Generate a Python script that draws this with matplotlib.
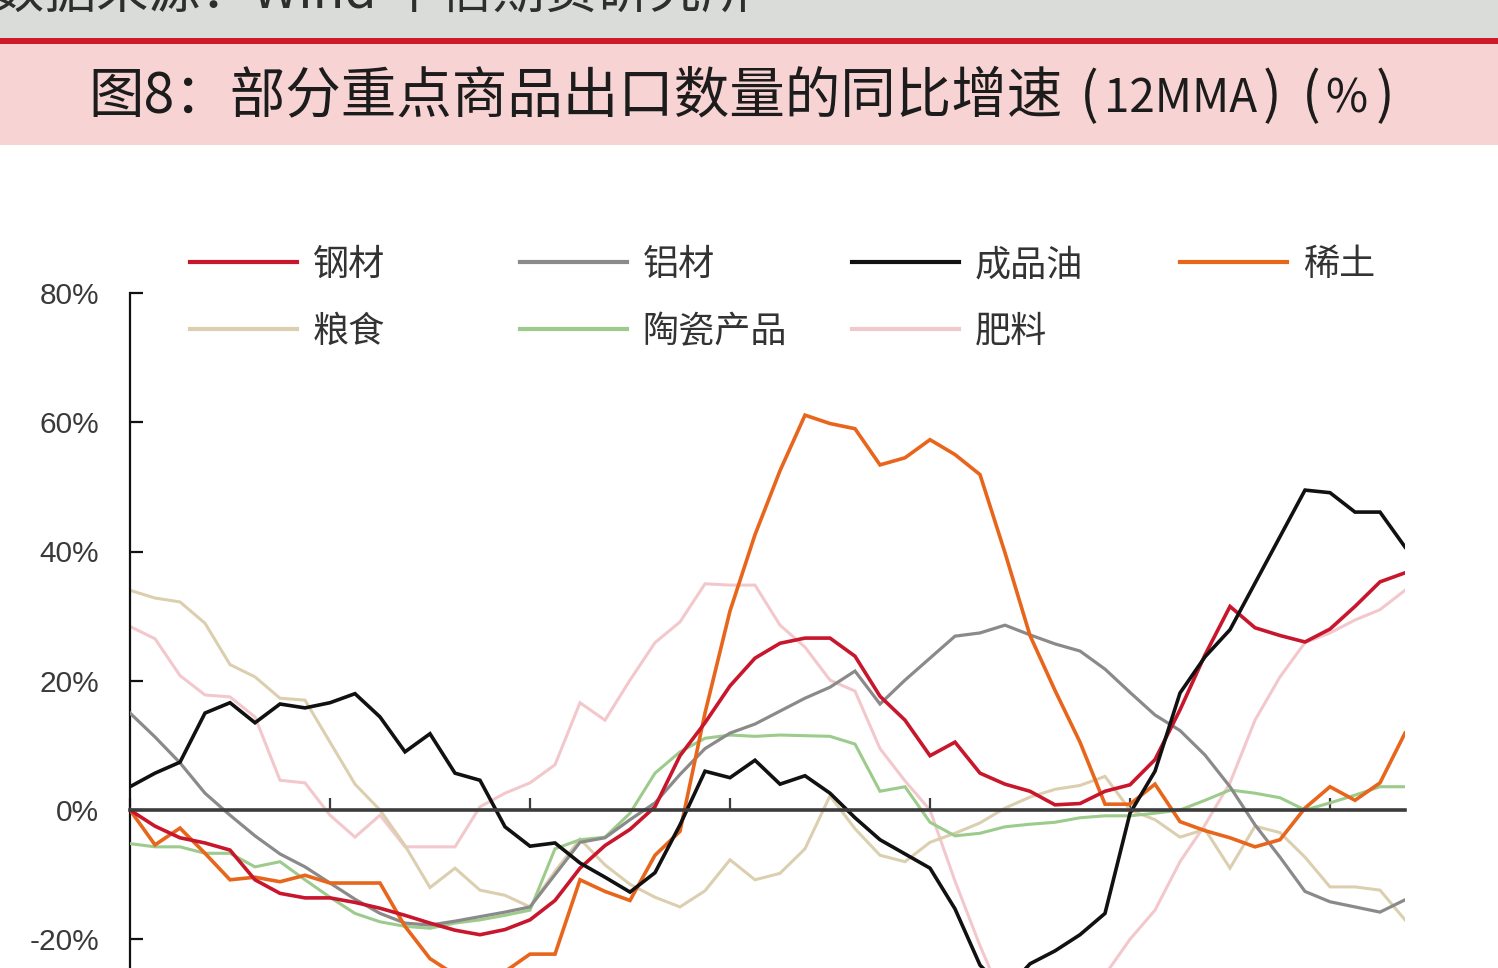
import matplotlib
matplotlib.use("Agg")
import matplotlib.pyplot as plt
from matplotlib.patches import Rectangle
import numpy as np

plt.rcParams['font.family'] = ['Noto Sans CJK SC', 'DejaVu Sans']

# ---------------- data (12MMA yoy, %) ----------------
month_index = np.arange(52)
xtick_positions = [0, 8, 16, 24, 32, 40, 48]
ytick_values = [-20, 0, 20, 40, 60, 80]
ytick_labels = ["-20%", "0%", "20%", "40%", "60%", "80%"]

steel = [0, -2.5, -4.3, -5.1, -6.2, -10.8, -12.9, -13.6, -13.6, -14.3, -15.2, -16.3, -17.5, -18.6, -19.3,
         -18.5, -17.0, -14.0, -9.0, -5.5, -3.0, 0.5, 8.4, 13.5, 19.2, 23.5, 25.8, 26.6, 26.6, 23.8, 17.6,
         13.9, 8.4, 10.5, 5.7, 4.0, 2.9, 0.8, 1.0, 2.9, 3.9, 7.8, 15.5, 24.0, 31.5, 28.2, 27.0, 26.0, 28.0,
         31.5, 35.3, 36.7]
aluminum = [15.0, 11.3, 7.3, 2.6, -0.8, -4.0, -6.8, -8.8, -11.3, -13.8, -16.0, -17.5, -17.8, -17.2, -16.5,
            -15.8, -15.0, -10.0, -5.0, -4.3, -1.5, 1.1, 5.5, 9.5, 11.9, 13.3, 15.3, 17.3, 19.0, 21.5, 16.4,
            20.1, 23.5, 26.9, 27.4, 28.6, 27.1, 25.7, 24.6, 21.8, 18.2, 14.7, 12.3, 8.5, 3.6, -2.3, -7.3,
            -12.6, -14.2, -15.0, -15.8, -13.9]
oil = [3.6, 5.7, 7.4, 15.0, 16.6, 13.5, 16.4, 15.8, 16.6, 18.0, 14.4, 9.0, 11.8, 5.7, 4.6, -2.6, -5.6,
       -5.1, -8.2, -10.4, -12.7, -9.7, -2.3, 6.0, 5.0, 7.7, 4.0, 5.3, 2.6, -1.2, -4.6, -6.8, -9.0, -15.3,
       -24.0, -28.0, -23.8, -21.8, -19.3, -16.0, -0.5, 6.0, 18.1, 23.7, 27.9, 35.1, 42.3, 49.5, 49.1,
       46.1, 46.1, 40.7]
rare_earth = [0, -5.4, -2.8, -6.7, -10.8, -10.4, -11.1, -10.1, -11.3, -11.3, -11.3, -18.0, -23.0, -25.5,
              -26.0, -25.0, -22.3, -22.3, -10.8, -12.6, -14.0, -7.0, -3.3, 15.0, 30.8, 42.6, 52.5, 61.1,
              59.8, 59.0, 53.4, 54.5, 57.3, 55.0, 51.9, 39.8, 27.0, 18.5, 10.5, 0.9, 0.9, 4.0, -1.8, -3.2,
              -4.3, -5.7, -4.6, 0.3, 3.6, 1.5, 4.2, 11.9]
grain = [34.0, 32.8, 32.2, 28.9, 22.5, 20.6, 17.3, 17.0, 10.5, 4.0, 0.0, -5.5, -12.0, -9.0, -12.4, -13.2,
         -15.0, -9.5, -4.5, -8.5, -11.5, -13.5, -15.0, -12.5, -7.7, -10.8, -9.8, -6.0, 2.2, -2.9, -7.0,
         -8.0, -5.0, -3.6, -2.0, 0.3, 2.0, 3.2, 3.8, 5.2, 0.0, -1.5, -4.2, -3.0, -9.0, -2.5, -3.5, -7.3,
         -11.9, -11.9, -12.4, -17.0]
ceramics = [-5.2, -5.7, -5.7, -6.7, -6.7, -8.8, -8.0, -10.8, -13.5, -16.0, -17.3, -18.0, -18.3, -17.5,
            -17.0, -16.3, -15.5, -6.0, -4.6, -4.2, -0.5, 5.7, 9.0, 11.1, 11.6, 11.4, 11.6, 11.5, 11.4, 10.2,
            2.9, 3.6, -1.9, -4.0, -3.6, -2.6, -2.2, -1.9, -1.2, -0.9, -0.9, -0.5, 0.0, 1.5, 3.1, 2.6, 1.9,
            0.0, 1.1, 2.3, 3.6, 3.6]
fertilizer = [28.4, 26.5, 20.8, 17.8, 17.5, 14.4, 4.6, 4.2, -0.8, -4.2, -0.8, -5.7, -5.7, -5.7, 0.5, 2.6,
              4.2, 7.0, 16.6, 13.9, 20.1, 25.9, 29.1, 35.0, 34.8, 34.8, 28.6, 25.2, 20.1, 18.4, 9.5, 4.5,
              0.0, -11.0, -21.0, -30.0, -33.0, -32.0, -28.0, -25.5, -20.0, -15.5, -8.0, -2.3, 4.2, 13.9,
              20.6, 25.9, 27.4, 29.4, 31.0, 34.0]

series_names = ["钢材", "铝材", "成品油", "稀土", "粮食", "陶瓷产品", "肥料"]
series_values = [steel, aluminum, oil, rare_earth, grain, ceramics, fertilizer]
series_colors = ["#c8162c", "#8a8a8a", "#111111", "#e8651c", "#dccfb0", "#9ccb8c", "#f3c8cd"]
series_widths = [2.6, 2.3, 2.6, 2.6, 2.2, 2.2, 2.2]
series_z = [6, 4, 7, 5, 2, 3, 1]

title_main = "图8：部分重点商品出口数量的同比增速"
title_unit_parts = ["(", "12MMA", ")", "(", "%", ")"]
source_text = "数据来源：Wind 中信期货研究所"

# ---------------- figure ----------------
W, H = 1498, 968
fig = plt.figure(figsize=(W / 100, H / 100), dpi=100)
fig.patch.set_facecolor("white")


def fx(px):
    return px / W


def fy(py):
    return 1 - py / H


# header bands
fig.add_artist(Rectangle((0, fy(38)), 1, 38 / H, transform=fig.transFigure,
                         facecolor="#dadcda", edgecolor="none", zorder=0))
fig.add_artist(Rectangle((0, fy(44)), 1, 6 / H, transform=fig.transFigure,
                         facecolor="#cf1a2c", edgecolor="none", zorder=1))
fig.add_artist(Rectangle((0, fy(145)), 1, 101 / H, transform=fig.transFigure,
                         facecolor="#f8d3d3", edgecolor="none", zorder=0))

fig.text(fx(-8), fy(-7), source_text, fontsize=37.5, color="#2e2e2e", va="center", ha="left")

title_color = "#1c1c1c"
fig.text(fx(88), fy(97), title_main, fontsize=40, color=title_color, va="center", ha="left")
unit_x = [1080, 1104, 1263, 1302, 1325, 1376]
unit_fs = [40, 33, 40, 40, 33, 40]
unit_dy = [97, 99, 97, 97, 99, 97]
for txt, xp, fs, yp in zip(title_unit_parts, unit_x, unit_fs, unit_dy):
    fig.text(fx(xp), fy(yp), txt, fontsize=fs, color=title_color, va="center", ha="left")

# ---------------- axes ----------------
y_top_px, y_zero_px = 293, 810
px_per_unit = (y_zero_px - y_top_px) / 80.0
y_min = -(H - y_zero_px) / px_per_unit
ax = fig.add_axes([fx(130), 0, fx(1405) - fx(130), (H - y_top_px) / H])
ax.set_facecolor("white")
ax.set_xlim(0, 51)
ax.set_ylim(y_min, 80)

lines = []
for name, vals, c, lw, z in zip(series_names, series_values, series_colors, series_widths, series_z):
    ln, = ax.plot(month_index, vals, color=c, lw=lw, label=name, zorder=z, solid_joinstyle="miter")
    lines.append(ln)

for s in ["top", "right"]:
    ax.spines[s].set_visible(False)
ax.spines["left"].set_color("#111111")
ax.spines["left"].set_linewidth(1.6)
ax.spines["bottom"].set_position(("data", 0))
ax.spines["bottom"].set_color("#3c3c3c")
ax.spines["bottom"].set_linewidth(2.6)
ax.spines["bottom"].set_zorder(8)

ax.set_yticks(ytick_values)
ax.set_yticklabels(ytick_labels, fontfamily="Liberation Sans")
ax.tick_params(axis="y", direction="in", length=9, width=1.6, pad=22, labelsize=21.5,
               labelcolor="#3a3a3a", color="#111111")
ax.set_xticks(xtick_positions)
ax.tick_params(axis="x", direction="in", length=9, width=1.6, color="#3c3c3c",
               labelbottom=False)

# ---------------- legend: 4 columns ----------------
columns = [[0, 4], [1, 5], [2, 6], [3]]
col_x = [190, 520, 852, 1180]
for col, xpx in zip(columns, col_x):
    leg = fig.legend([lines[k] for k in col], [series_names[k] for k in col],
                     loc="upper left", bbox_to_anchor=(fx(xpx), fy(247)),
                     bbox_transform=fig.transFigure, frameon=False, fontsize=26,
                     handlelength=2.95, handletextpad=0.45, labelspacing=0.86,
                     borderpad=0, borderaxespad=0)
    for t in leg.get_texts():
        t.set_color("#333333")
    for h in leg.legend_handles:
        h.set_linewidth(3.0)

fig.savefig("out.png", dpi=100, facecolor="white")
